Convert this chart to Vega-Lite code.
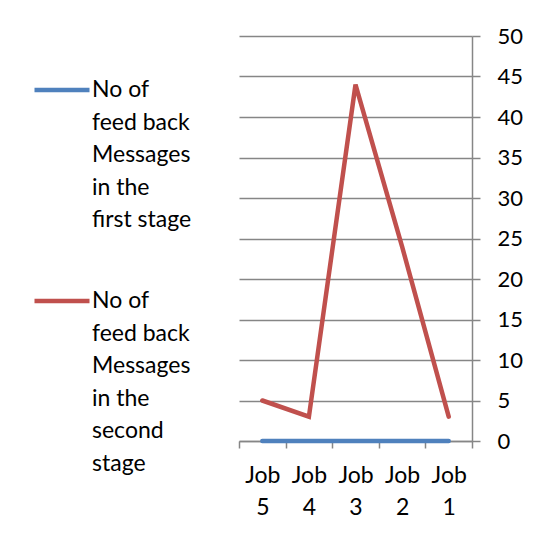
{
  "$schema": "https://vega.github.io/schema/vega-lite/v6.json",
  "width": 233,
  "height": 405,
  "padding": {"left": 32, "top": 25, "right": 5, "bottom": 5},
  "background": "white",
  "config": {"font": "Lato", "view": {"stroke": null}},
  "data": {
    "values": [
      {"job": "Job 5", "series": "No of feed back Messages in the first stage", "value": 0},
      {"job": "Job 4", "series": "No of feed back Messages in the first stage", "value": 0},
      {"job": "Job 3", "series": "No of feed back Messages in the first stage", "value": 0},
      {"job": "Job 2", "series": "No of feed back Messages in the first stage", "value": 0},
      {"job": "Job 1", "series": "No of feed back Messages in the first stage", "value": 0},
      {"job": "Job 5", "series": "No of feed back Messages in the second stage", "value": 5},
      {"job": "Job 4", "series": "No of feed back Messages in the second stage", "value": 3},
      {"job": "Job 3", "series": "No of feed back Messages in the second stage", "value": 44},
      {"job": "Job 2", "series": "No of feed back Messages in the second stage", "value": 24},
      {"job": "Job 1", "series": "No of feed back Messages in the second stage", "value": 3}
    ]
  },
  "mark": {"type": "line", "strokeWidth": 4.5, "strokeCap": "round", "strokeJoin": "miter"},
  "encoding": {
    "x": {
      "field": "job",
      "type": "nominal",
      "sort": ["Job 5", "Job 4", "Job 3", "Job 2", "Job 1"],
      "bandPosition": 0.5,
      "scale": {"type": "band", "paddingInner": 0, "paddingOuter": 0},
      "axis": {
        "title": null,
        "labelAngle": 0,
        "labelExpr": "split(datum.label, ' ')",
        "labelFontSize": 23,
        "labelLineHeight": 32,
        "labelColor": "#000000",
        "labelPadding": 16,
        "tickBand": "extent",
        "tickSize": 7,
        "tickWidth": 1.5,
        "tickColor": "#868686",
        "domainColor": "#868686",
        "domainWidth": 1.5,
        "grid": false
      }
    },
    "y": {
      "field": "value",
      "type": "quantitative",
      "scale": {"domain": [0, 50], "nice": false},
      "axis": {
        "orient": "right",
        "title": null,
        "values": [0, 5, 10, 15, 20, 25, 30, 35, 40, 45, 50],
        "labelFontSize": 22,
        "labelColor": "#000000",
        "labelPadding": 17,
        "tickSize": 8,
        "tickWidth": 1.5,
        "tickColor": "#868686",
        "domainColor": "#868686",
        "domainWidth": 1.5,
        "grid": true,
        "gridColor": "#868686",
        "gridWidth": 1.5
      }
    },
    "color": {
      "field": "series",
      "type": "nominal",
      "scale": {
        "domain": ["No of feed back Messages in the first stage", "No of feed back Messages in the second stage"],
        "range": ["#4F81BD", "#C0504D"]
      },
      "legend": {
        "orient": "none",
        "legendX": -207,
        "legendY": 24,
        "title": null,
        "symbolType": "stroke",
        "symbolSize": 3025,
        "symbolStrokeWidth": 4.5,
        "labelExpr": "indexof(datum.label, 'first') >= 0 ? ['No of', 'feed back', 'Messages', 'in the', 'first stage'] : ['No of', 'feed back', 'Messages', 'in the', 'second', 'stage']",
        "labelFontSize": 23,
        "labelBaseline": "top",
        "labelLimit": 0,
        "labelOffset": 0,
        "labelColor": "#000000",
        "rowPadding": 39,
        "encode": {"labels": {"update": {"dy": {"value": -11}, "lineHeight": {"value": 32.5}}}}
      }
    }
  }
}
